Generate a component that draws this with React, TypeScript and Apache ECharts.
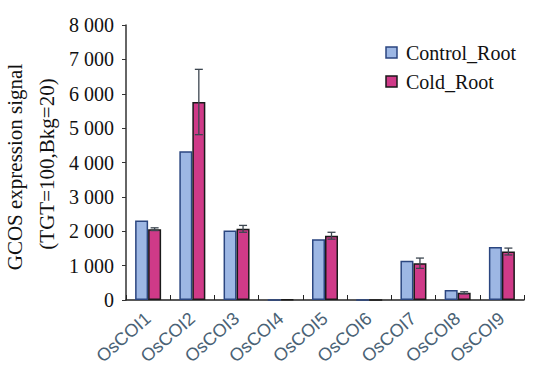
import React, { useEffect, useRef } from "react";
import * as echarts from "echarts";

const categories = ["OsCOI1", "OsCOI2", "OsCOI3", "OsCOI4", "OsCOI5", "OsCOI6", "OsCOI7", "OsCOI8", "OsCOI9"];
const seriesNames = ["Control_Root", "Cold_Root"];
const controlRoot = [2310, 4330, 2020, 0, 1770, 0, 1140, 290, 1540];
const coldRoot = [2060, 5760, 2070, 20, 1870, 0, 1070, 210, 1410];
const coldErr = [40, 950, 100, 0, 100, 0, 150, 30, 100];

const SERIF = "Liberation Serif";
const SANS = "Liberation Sans";
const BAR_W = 13;
const COLORS = ["#9db7e4", "#cf3a88"];
const BORDERS = ["#2b4680", "#1a1a1a"];

export default function App() {
  const ref = useRef<HTMLDivElement>(null);
  useEffect(() => {
    if (!ref.current) return;
    const chart = echarts.init(ref.current, undefined, { renderer: "svg" });
    const errData = coldRoot.map((v, i) => [i, v, coldErr[i]]);
    const legendGraphics: any[] = [];
    seriesNames.forEach((name, i) => {
      const cy = 52.5 + i * 29;
      legendGraphics.push({
        type: "rect",
        shape: { x: 386, y: cy - 5.5, width: 11, height: 11 },
        style: { fill: COLORS[i], stroke: BORDERS[i], lineWidth: 1.5 },
      });
      legendGraphics.push({
        type: "text",
        x: 406,
        y: cy,
        style: {
          text: name,
          fontFamily: SERIF,
          fontSize: 20,
          fill: "#111",
          align: "left",
          verticalAlign: "middle",
        },
      });
    });
    chart.setOption({
      animation: false,
      backgroundColor: "#ffffff",
      textStyle: { fontFamily: SERIF },
      grid: { left: 126, right: 11, top: 25, bottom: 71, containLabel: false },
      xAxis: {
        type: "category",
        data: categories,
        axisLine: { lineStyle: { color: "#222", width: 1.5 } },
        axisTick: { show: true, inside: true, length: 5, lineStyle: { color: "#222" } },
        axisLabel: {
          rotate: 41,
          margin: 16,
          fontFamily: SANS,
          fontSize: 18,
          color: "#4a6275",
        },
      },
      yAxis: {
        type: "value",
        min: 0,
        max: 8000,
        interval: 1000,
        splitLine: { show: false },
        axisLine: { show: true, lineStyle: { color: "#333", width: 1.5 } },
        axisTick: { show: true, length: 4, lineStyle: { color: "#333" } },
        axisLabel: {
          margin: 12,
          fontFamily: SERIF,
          fontSize: 20,
          color: "#111",
          formatter: (v: number) => (v === 0 ? "0" : `${Math.floor(v / 1000)} 000`),
        },
      },
      graphic: [
        {
          type: "text",
          x: 15,
          y: 167,
          rotation: Math.PI / 2,
          style: {
            text: "GCOS expression signal",
            fontFamily: SERIF,
            fontSize: 21,
            fill: "#111",
            align: "center",
            verticalAlign: "middle",
          },
        },
        {
          type: "text",
          x: 47,
          y: 164,
          rotation: Math.PI / 2,
          style: {
            text: "(TGT=100,Bkg=20)",
            fontFamily: SERIF,
            fontSize: 21,
            fill: "#111",
            align: "center",
            verticalAlign: "middle",
          },
        },
        ...legendGraphics,
      ],
      series: [
        {
          name: seriesNames[0],
          type: "bar",
          data: controlRoot,
          barWidth: BAR_W,
          barGap: "0%",
          itemStyle: { color: COLORS[0], borderColor: BORDERS[0], borderWidth: 1.5 },
        },
        {
          name: seriesNames[1],
          type: "bar",
          data: coldRoot,
          barWidth: BAR_W,
          itemStyle: { color: COLORS[1], borderColor: BORDERS[1], borderWidth: 1.5 },
        },
        {
          name: "err",
          type: "custom",
          z: 10,
          data: errData,
          encode: { x: 0, y: 1 },
          renderItem: (params: any, api: any) => {
            const idx = api.value(0);
            const v = api.value(1);
            const e = api.value(2);
            if (!e) return null;
            const top = api.coord([idx, v + e]);
            const bot = api.coord([idx, v - e]);
            const x = top[0] + BAR_W / 2;
            const cap = 4;
            const style = { stroke: "#3c4650", lineWidth: 1.3 };
            return {
              type: "group",
              children: [
                { type: "line", shape: { x1: x, y1: top[1], x2: x, y2: bot[1] }, style },
                { type: "line", shape: { x1: x - cap, y1: top[1], x2: x + cap, y2: top[1] }, style },
                { type: "line", shape: { x1: x - cap, y1: bot[1], x2: x + cap, y2: bot[1] }, style },
              ],
            };
          },
        },
      ],
    });
    return () => chart.dispose();
  }, []);
  return <div ref={ref} style={{ width: 535, height: 371, position: "fixed", left: 0, top: 0 }} />;
}
